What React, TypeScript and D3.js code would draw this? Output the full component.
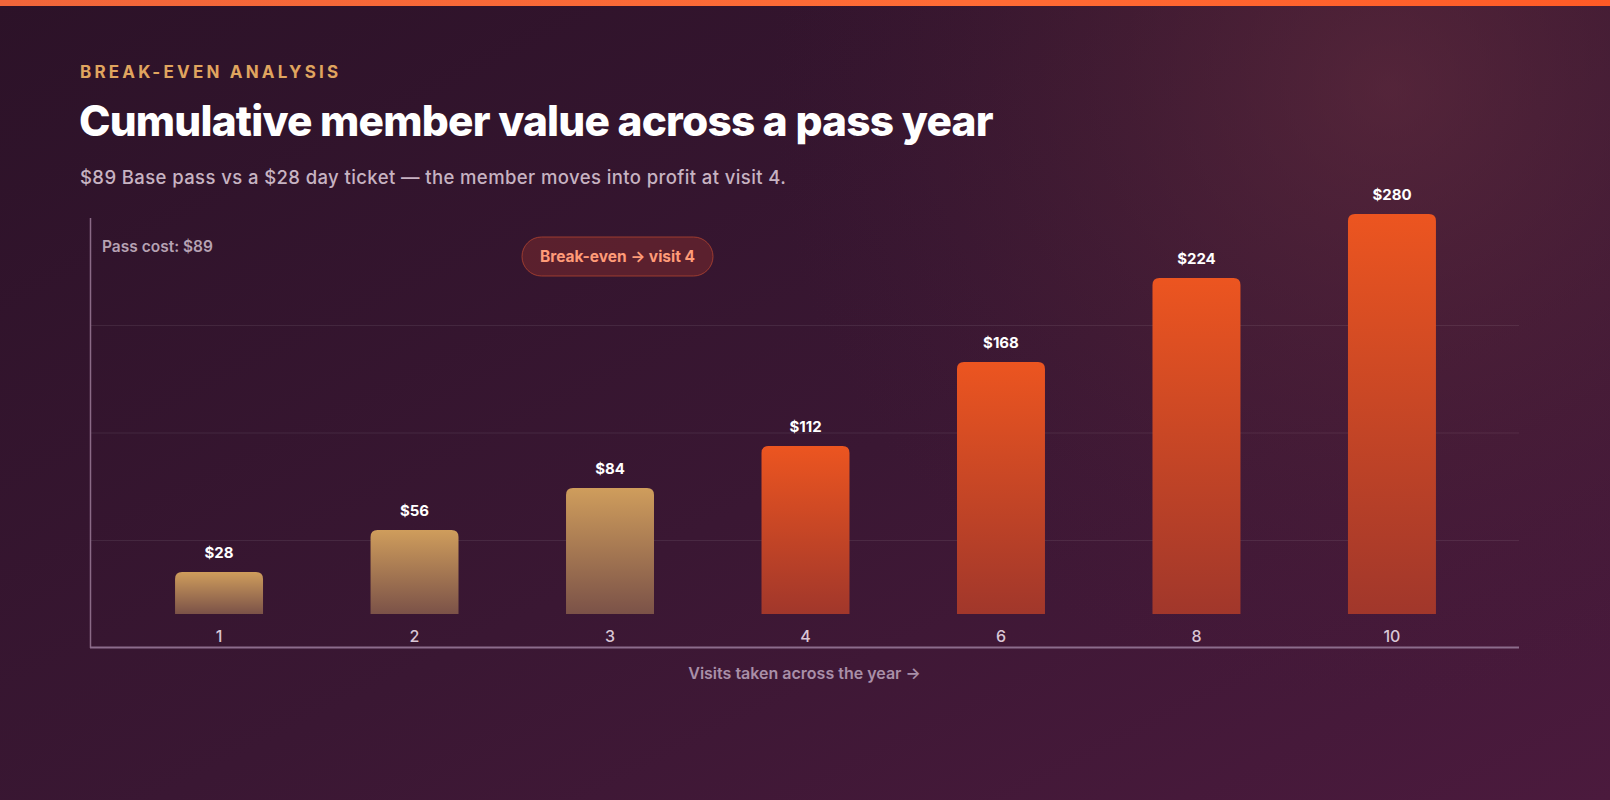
import React from "react";
import * as d3 from "d3";

const width = 1610;
const height = 800;

// cumulative day-ticket value after each visit count
const visits = ["1", "2", "3", "4", "6", "8", "10"];
const values = [28, 56, 84, 112, 168, 224, 280];
const passCost = 89;
const breakEvenVisit = 4;

const eyebrow = "BREAK-EVEN ANALYSIS";
const title = "Cumulative member value across a pass year";
const subtitle = "$89 Base pass vs a $28 day ticket — the member moves into profit at visit 4.";
const axisTitle = "Visits taken across the year →";

// plot frame
const frame = { left: 90, right: 1519, top: 218, bottom: 648 };
const barBase = 614;
const barCap = 214; // bars never rise past this line

const topRounded = (x: number, y: number, w: number, h: number, r: number) => {
  const rr = Math.min(r, h / 2, w / 2);
  return `M${x},${y + h}V${y + rr}Q${x},${y} ${x + rr},${y}H${x + w - rr}Q${x + w},${y} ${x + w},${y + rr}V${y + h}Z`;
};

const App = () => {
  const xScale = d3
    .scaleBand<string>()
    .domain(visits)
    .range([frame.left + 1, frame.right + 1])
    .paddingInner(0.55)
    .paddingOuter(0.43);

  // 1.5px per dollar from the bar baseline
  const yScale = d3.scaleLinear().domain([0, 280]).range([barBase, barBase - 420]);

  // decorative guides at quarters of the frame
  const frameY = d3.scaleLinear().domain([0, 1]).range([frame.bottom, frame.top]);
  const guides = [0.25, 0.5, 0.75];

  const bars = visits.map((v, i) => {
    const top = Math.max(yScale(values[i]), barCap);
    return {
      key: v,
      x: xScale(v) as number,
      top,
      value: values[i],
      profit: values[i] > passCost,
    };
  });

  const bw = xScale.bandwidth();
  const font = "Inter, 'Noto Sans', sans-serif";

  return (
    <>
      <style>{"body{margin:0;background:#2e1428}"}</style>
      <svg width={width} height={height} style={{ display: "block" }}>
        <defs>
          <linearGradient id="bg" x1="0" y1="0" x2="1" y2="1">
            <stop offset="0%" stopColor="#2c1228" />
            <stop offset="55%" stopColor="#3a1733" />
            <stop offset="100%" stopColor="#4b1a3d" />
          </linearGradient>
          <radialGradient id="glow" cx="1390" cy="90" r="620" gradientUnits="userSpaceOnUse">
            <stop offset="0%" stopColor="#6a3040" stopOpacity="0.55" />
            <stop offset="60%" stopColor="#5a2838" stopOpacity="0.2" />
            <stop offset="100%" stopColor="#4a1e38" stopOpacity="0" />
          </radialGradient>
          <linearGradient id="topBar" x1="0" x2="1">
            <stop offset="0%" stopColor="#f0653a" />
            <stop offset="60%" stopColor="#ff6b35" />
            <stop offset="100%" stopColor="#ff5a26" />
          </linearGradient>
          <linearGradient id="barProfit" x1="0" y1="0" x2="0" y2="1">
            <stop offset="0%" stopColor="#ec5520" />
            <stop offset="100%" stopColor="#a1372b" />
          </linearGradient>
          <linearGradient id="barCost" x1="0" y1="0" x2="0" y2="1">
            <stop offset="0%" stopColor="#cf9d5c" />
            <stop offset="100%" stopColor="#7b5248" />
          </linearGradient>
        </defs>

        <rect width={width} height={height} fill="url(#bg)" />
        <rect width={width} height={height} fill="url(#glow)" />
        <rect width={width} height={6} fill="url(#topBar)" />

        <text x={80} y={77.5} fill="#e0a55f" fontFamily={font} fontWeight={700} fontSize={17} letterSpacing={3.2}>
          {eyebrow}
        </text>
        <text x={79} y={136} fill="#ffffff" fontFamily={font} fontWeight={800} fontSize={42.4} letterSpacing={-0.8}>
          {title}
        </text>
        <text x={80} y={183.5} fill="#c7b3c2" fontFamily={font} fontWeight={500} fontSize={18.5} letterSpacing={0.4}>
          {subtitle}
        </text>

        {/* frame guides */}
        {guides.map((g) => (
          <line
            key={g}
            x1={frame.left}
            x2={frame.right}
            y1={frameY(g)}
            y2={frameY(g)}
            stroke="#ffffff"
            strokeOpacity={0.08}
          />
        ))}
        <line x1={frame.left + 0.5} x2={frame.left + 0.5} y1={frame.top} y2={frame.bottom} stroke="#8a6a86" strokeWidth={1.5} />
        <line x1={frame.left} x2={frame.right} y1={frame.bottom - 0.5} y2={frame.bottom - 0.5} stroke="#8c6c8c" strokeWidth={2} />

        <text x={102} y={252} fill="#b6a2b3" fontFamily={font} fontWeight={600} fontSize={15.5}>
          {`Pass cost: $${passCost}`}
        </text>

        {/* break-even badge */}
        <g transform="translate(617.5,256.5)">
          <rect x={-95.5} y={-19.5} width={191} height={39} rx={19.5} fill="#7a2a2e" fillOpacity={0.55} stroke="#b2432f" strokeOpacity={0.8} />
          <text textAnchor="middle" dy="0.35em" fill="#ff9b78" fontFamily={font} fontWeight={700} fontSize={15.5}>
            {`Break-even → visit ${breakEvenVisit}`}
          </text>
        </g>

        {bars.map((b) => (
          <g key={b.key}>
            <path
              d={topRounded(b.x, b.top, bw, barBase - b.top, 7)}
              fill={b.profit ? "url(#barProfit)" : "url(#barCost)"}
            />
            <text
              x={b.x + bw / 2}
              y={b.top - 19}
              dy="0.35em"
              textAnchor="middle"
              fill="#ffffff"
              fontFamily={font}
              fontWeight={700}
              fontSize={15}
            >
              {`$${b.value}`}
            </text>
            <text
              x={b.x + bw / 2}
              y={636}
              dy="0.35em"
              textAnchor="middle"
              fill="#d9c6d5"
              fontFamily={font}
              fontWeight={500}
              fontSize={16}
            >
              {b.key}
            </text>
          </g>
        ))}

        <text
          x={(frame.left + frame.right) / 2}
          y={673}
          dy="0.35em"
          textAnchor="middle"
          fill="#a98fa8"
          fontFamily={font}
          fontWeight={600}
          fontSize={16}
        >
          {axisTitle}
        </text>
      </svg>
    </>
  );
};

export default App;
